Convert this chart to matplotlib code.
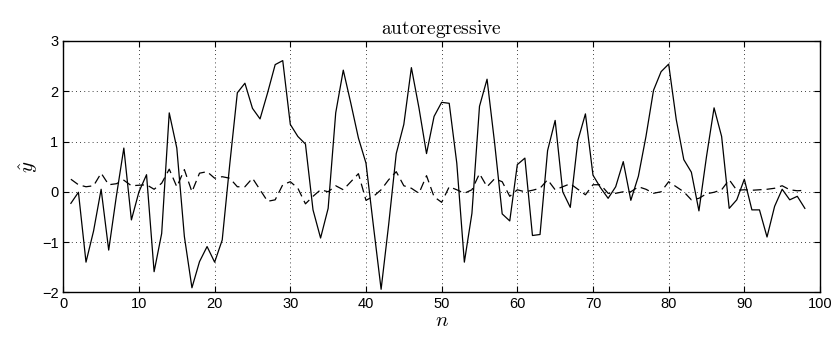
import matplotlib
matplotlib.use("Agg")
import matplotlib.pyplot as plt
import numpy as np

plt.rcParams['mathtext.fontset'] = 'cm'
plt.rcParams['font.family'] = ['Liberation Sans', 'DejaVu Sans']

n = list(range(1, 99))

y_solid = [-0.23, -0.01, -1.40, -0.78, 0.05, -1.16, -0.10, 0.87, -0.56, 0.0,
           0.34, -1.59, -0.83, 1.57, 0.87, -0.89, -1.91, -1.39, -1.09, -1.40,
           -0.96, 0.55, 1.97, 2.16, 1.66, 1.45, 1.97, 2.53, 2.61, 1.34,
           1.10, 0.95, -0.36, -0.92, -0.33, 1.57, 2.42, 1.76, 1.07, 0.57,
           -0.70, -1.94, -0.65, 0.76, 1.34, 2.47, 1.67, 0.76, 1.50, 1.78,
           1.76, 0.57, -1.40, -0.43, 1.70, 2.24, 0.97, -0.44, -0.58, 0.54,
           0.67, -0.87, -0.85, 0.82, 1.42, 0.0, -0.31, 1.02, 1.55, 0.33,
           0.08, -0.13, 0.10, 0.60, -0.17, 0.31, 1.10, 2.02, 2.39, 2.54,
           1.44, 0.64, 0.39, -0.38, 0.70, 1.67, 1.10, -0.33, -0.16, 0.25,
           -0.36, -0.36, -0.90, -0.29, 0.05, -0.16, -0.09, -0.33]

y_dashed = [0.25, 0.14, 0.10, 0.12, 0.37, 0.14, 0.16, 0.23, 0.12, 0.13,
            0.14, 0.05, 0.17, 0.45, 0.10, 0.44, 0.0, 0.37, 0.40, 0.27,
            0.30, 0.27, 0.10, 0.10, 0.27, 0.04, -0.19, -0.16, 0.14, 0.20,
            0.07, -0.24, -0.09, 0.04, 0.0, 0.12, 0.04, 0.20, 0.36, -0.17,
            -0.09, 0.04, 0.24, 0.40, 0.12, 0.07, -0.03, 0.32, -0.10, -0.21,
            0.10, 0.04, -0.03, 0.04, 0.36, 0.10, 0.26, 0.20, -0.09, 0.04,
            0.0, 0.03, 0.07, 0.24, 0.04, 0.10, 0.16, 0.05, -0.06, 0.14,
            0.14, -0.03, -0.03, 0.0, 0.0, 0.10, 0.05, -0.03, 0.0, 0.20,
            0.10, 0.0, -0.16, -0.13, -0.04, -0.01, 0.04, 0.24, 0.03, 0.04,
            0.03, 0.04, 0.05, 0.07, 0.12, 0.04, 0.02, 0.03]

xticks = [0, 10, 20, 30, 40, 50, 60, 70, 80, 90, 100]
yticks = [-2, -1, 0, 1, 2, 3]

fig = plt.figure(figsize=(8.39, 3.39), dpi=100)
ax = fig.add_axes([63.3/839, 1-292.3/339, (820-63.3)/839, (292.3-41)/339])

ax.plot(n, y_solid, color='black', lw=0.9, linestyle='-')
ax.plot(n, y_dashed, color='black', lw=0.9, linestyle=(0, (7, 4)))

ax.set_xlim(0, 100)
ax.set_ylim(-2, 3)
ax.set_xticks(xticks)
ax.set_yticks(yticks)
ax.set_xticklabels([str(t) for t in xticks])
ax.set_yticklabels([str(t).replace('-', '\u2212') for t in yticks])
ax.tick_params(direction='in', top=True, right=True, labelsize=10.5, length=4, width=0.8)
ax.grid(True, color='black', linestyle=(0, (1, 4)), lw=0.6)
for s in ax.spines.values():
    s.set_linewidth(1.0)

ax.set_title(r'$\mathrm{autoregressive}$', fontsize=14, pad=5)
ax.set_xlabel(r'$n$', fontsize=15, labelpad=0)
ax.set_ylabel(r'$\hat{y}$', fontsize=15, labelpad=1)

fig.savefig('out.png', dpi=100)
